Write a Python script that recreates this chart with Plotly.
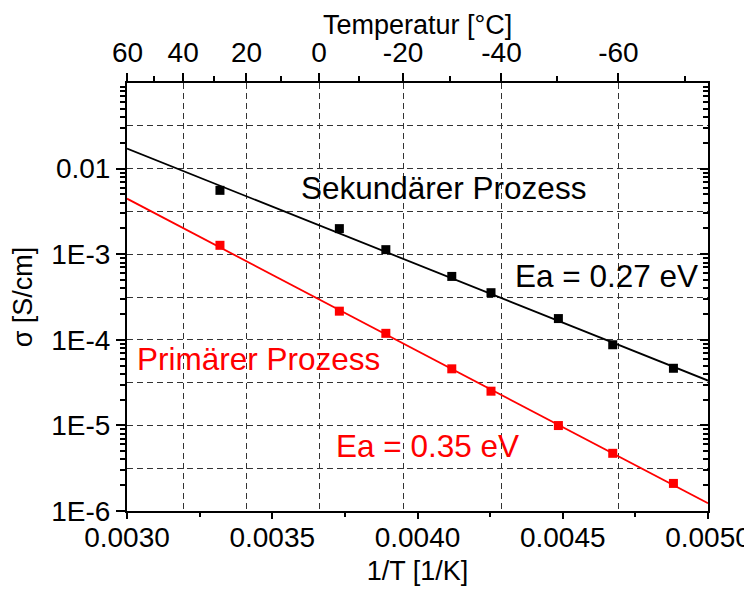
import plotly.graph_objects as go

# ---------------- data ----------------
inv_T = [0.003320, 0.003731, 0.003891, 0.004118, 0.004253, 0.004485, 0.004672, 0.004881]
sek_sigma = [5.57e-3, 1.99e-3, 1.13e-3, 5.50e-4, 3.55e-4, 1.77e-4, 8.75e-5, 4.65e-5]
prim_sigma = [1.27e-3, 2.16e-4, 1.19e-4, 4.58e-5, 2.51e-5, 9.96e-6, 4.72e-6, 2.10e-6]

fit_x = [0.0030, 0.0050]
sek_fit = [1.713e-2, 3.34e-5]
prim_fit = [4.46e-3, 1.23e-6]

x_ticks = [0.0030, 0.0035, 0.0040, 0.0045, 0.0050]
x_minor = [0.00325, 0.00375, 0.00425, 0.00475]
y_ticks = [1e-6, 1e-5, 1e-4, 1e-3, 1e-2]
y_ticktext = ["1E-6", "1E-5", "1E-4", "1E-3", "0.01"]
y_half = [10 ** (-5.5), 10 ** (-4.5), 10 ** (-3.5), 10 ** (-2.5), 10 ** (-1.5)]
top_temps = [60, 40, 20, 0, -20, -40, -60]
top_minor_temps = [50, 30, 10, -10, -30, -50, -70]

FONT = "Arial, 'Liberation Sans', sans-serif"
RED = "#FF0000"
TICKSIZE = 28
TITLESIZE = 27
ANNOSIZE = 31.5

y_minor = [m * 10 ** e for e in range(-6, -1) for m in range(2, 10)]
top_vals = [1.0 / (t + 273.15) for t in top_temps]
top_minor_vals = [1.0 / (t + 273.15) for t in top_minor_temps]

fig = go.Figure()
# empty traces so that the helper axes (top, right, ticks, half-decade grid) are drawn
fig.add_trace(go.Scatter(x=[], y=[], xaxis="x2", yaxis="y", showlegend=False, hoverinfo="skip"))
fig.add_trace(go.Scatter(x=[], y=[], xaxis="x3", yaxis="y", showlegend=False, hoverinfo="skip"))
fig.add_trace(go.Scatter(x=[], y=[], xaxis="x", yaxis="y3", showlegend=False, hoverinfo="skip"))
fig.add_trace(go.Scatter(x=[], y=[], xaxis="x", yaxis="y4", showlegend=False, hoverinfo="skip"))

fig.add_trace(go.Scatter(x=fit_x, y=sek_fit, mode="lines",
                         line=dict(color="black", width=1.8), showlegend=False))
fig.add_trace(go.Scatter(x=fit_x, y=prim_fit, mode="lines",
                         line=dict(color=RED, width=1.8), showlegend=False))
fig.add_trace(go.Scatter(x=inv_T, y=sek_sigma, mode="markers",
                         marker=dict(symbol="square", size=9, color="black"), showlegend=False))
fig.add_trace(go.Scatter(x=inv_T, y=prim_sigma, mode="markers",
                         marker=dict(symbol="square", size=9, color=RED), showlegend=False))

grid = dict(gridcolor="#333333", gridwidth=1, griddash="6px,4px")

# the page body adds an 8 px offset, so the figure is 8 px smaller
W, H = 744, 583
M = dict(l=119, r=44, t=75, b=80)
plot_h = H - M["t"] - M["b"]

fig.update_layout(
    template="none",
    width=W, height=H,
    margin=M,
    paper_bgcolor="white", plot_bgcolor="white",
    font=dict(family=FONT, size=TICKSIZE, color="black"),
    xaxis=dict(
        range=[0.0030, 0.0050], tickvals=x_ticks, tickformat=".4f", automargin=False,
        ticks="", showline=True, linewidth=2, linecolor="black", showgrid=False, zeroline=False,
        tickfont=dict(size=TICKSIZE),
        title=dict(text="1/T [1/K]", font=dict(size=TITLESIZE), standoff=10),
    ),
    xaxis3=dict(
        overlaying="x", side="bottom", anchor="y", automargin=False,
        range=[0.0030, 0.0050], tickvals=x_ticks, showticklabels=False,
        ticks="outside", ticklen=7, tickwidth=2, tickcolor="black",
        minor=dict(tickvals=x_minor, ticks="outside", ticklen=5, tickwidth=2, tickcolor="black"),
        showline=False, showgrid=False, zeroline=False,
    ),
    xaxis2=dict(
        overlaying="x", side="top", anchor="y", automargin=False,
        range=[0.0030, 0.0050], tickvals=top_vals, ticktext=[str(t) for t in top_temps],
        ticks="outside", ticklen=8, tickwidth=2, tickcolor="black",
        minor=dict(tickvals=top_minor_vals, ticks="outside", ticklen=5, tickwidth=2, tickcolor="black"),
        showline=True, linewidth=2, linecolor="black", showgrid=True, zeroline=False,
        tickfont=dict(size=TICKSIZE), ticklabelstandoff=0,
        **grid,
    ),
    yaxis=dict(
        type="log", range=[-6, -1], tickvals=y_ticks, ticktext=y_ticktext, automargin=False,
        ticks="outside", ticklen=9, tickwidth=2, tickcolor="black",
        minor=dict(tickvals=y_minor, ticks="outside", ticklen=5, tickwidth=1.5, tickcolor="black"),
        showline=True, linewidth=2, linecolor="black", showgrid=True, zeroline=False,
        tickfont=dict(size=TICKSIZE),
        title=dict(text="σ [S/cm]", font=dict(size=TITLESIZE), standoff=18),
        **grid,
    ),
    yaxis3=dict(
        overlaying="y", side="right", anchor="x", automargin=False,
        type="log", range=[-6, -1], tickvals=y_ticks, showticklabels=False,
        ticks="inside", ticklen=8, tickwidth=2, tickcolor="black",
        minor=dict(tickvals=y_minor, ticks="inside", ticklen=5, tickwidth=1.5, tickcolor="black"),
        showline=True, linewidth=2, linecolor="black", showgrid=False, zeroline=False,
    ),
    yaxis4=dict(
        overlaying="y", side="left", anchor="x", automargin=False,
        type="log", range=[-6, -1], tickvals=y_half, showticklabels=False,
        ticks="", showline=False, showgrid=True, zeroline=False,
        **grid,
    ),
)

# top axis title, pinned to the top edge of the figure
fig.add_annotation(text="Temperatur [°C]", xref="paper", yref="paper",
                   x=0.5, y=1 + M["t"] / plot_h, xanchor="center", yanchor="top",
                   showarrow=False, font=dict(family=FONT, size=TITLESIZE, color="black"))

annos = [
    dict(text="Sekundärer Prozess", x=0.004091, y=-2.23, color="black"),
    dict(text="Ea = 0.27 eV", x=0.004651, y=-3.254, color="black"),
    dict(text="Primärer Prozess", x=0.003451, y=-4.23, color=RED),
    dict(text="Ea = 0.35 eV", x=0.004033, y=-5.236, color=RED),
]
for a in annos:
    fig.add_annotation(text=a["text"], x=a["x"], y=a["y"], xref="x", yref="y",
                       showarrow=False, xanchor="center", yanchor="middle",
                       font=dict(family=FONT, size=ANNOSIZE, color=a["color"]))

fig.write_html("out.html")
